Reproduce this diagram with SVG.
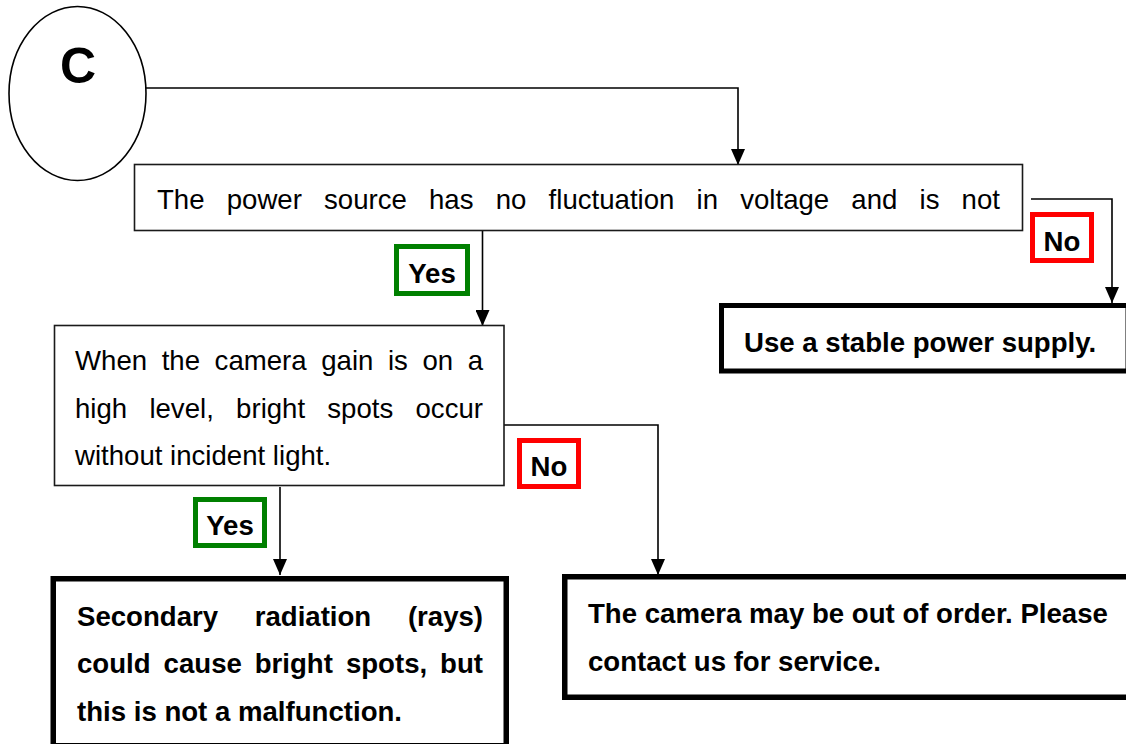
<svg xmlns="http://www.w3.org/2000/svg" width="1126" height="744" viewBox="0 0 1126 744">
<style>
text{font-family:"Liberation Sans",Arial,sans-serif;font-size:27.6px;fill:#000}
.b{font-weight:bold}
.thin{fill:#fff;stroke:#1a1a1a;stroke-width:1.6}
.thick{fill:#fff;stroke:#000;stroke-width:5.5}
.con{fill:none;stroke:#000;stroke-width:1.6}
.yes{fill:#fff;stroke:#008000;stroke-width:5}
.no{fill:#fff;stroke:#ff0000;stroke-width:5}
.lbl{font-weight:bold;text-anchor:middle}
</style>
<defs>
<marker id="arr" markerUnits="userSpaceOnUse" markerWidth="16" markerHeight="14" refX="16" refY="7" orient="auto">
<path d="M0,0 L16,7 L0,14 z" fill="#000"/>
</marker>
</defs>
<rect width="1126" height="744" fill="#fff"/>

<g id="connectors">
<path class="con" d="M146,88 H738 V165" marker-end="url(#arr)"/>
<path class="con" d="M1031,199 H1112 V303" marker-end="url(#arr)"/>
<path class="con" d="M482.5,231 V326" marker-end="url(#arr)"/>
<path class="con" d="M504,425 H658 V575" marker-end="url(#arr)"/>
<path class="con" d="M280,487 V575" marker-end="url(#arr)"/>
</g>

<g id="start">
<ellipse cx="77.5" cy="93.5" rx="68.5" ry="87" fill="#fff" stroke="#000" stroke-width="1.6"/>
<text class="b" x="78" y="83" text-anchor="middle" style="font-size:50px">C</text>
</g>

<g id="q1">
<rect class="thin" x="134.5" y="164.5" width="888" height="66"/>
<text y="209"><tspan x="157">The</tspan><tspan x="226.7">power</tspan><tspan x="324">source</tspan><tspan x="429">has</tspan><tspan x="495.7">no</tspan><tspan x="548.6">fluctuation</tspan><tspan x="696.5">in</tspan><tspan x="740.2">voltage</tspan><tspan x="851.3">and</tspan><tspan x="919.5">is</tspan><tspan x="961.6">not</tspan></text>
</g>

<g id="r1">
<rect class="thick" x="721.5" y="305.5" width="406.5" height="65.5" style="stroke-width:5"/>
<text class="b" x="744" y="352">Use a stable power supply.</text>
</g>

<g id="q2">
<rect class="thin" x="54.5" y="325.5" width="449.5" height="160"/>
<text y="370"><tspan x="75">When</tspan><tspan x="161.7">the</tspan><tspan x="214.6">camera</tspan><tspan x="321.2">gain</tspan><tspan x="387.9">is</tspan><tspan x="422.4">on</tspan><tspan x="467.7">a</tspan></text>
<text y="418"><tspan x="75">high</tspan><tspan x="149.4">level,</tspan><tspan x="236.1">bright</tspan><tspan x="327.3">spots</tspan><tspan x="415.5">occur</tspan></text>
<text x="75" y="465">without incident light.</text>
</g>

<g id="r2">
<rect class="thick" x="53.25" y="578.75" width="453" height="167"/>
<text class="b" y="626"><tspan x="77">Secondary</tspan><tspan x="254.7">radiation</tspan><tspan x="407.9">(rays)</tspan></text>
<text class="b" y="673"><tspan x="77">could</tspan><tspan x="163.6">cause</tspan><tspan x="254.7">bright</tspan><tspan x="345.9">spots,</tspan><tspan x="440.1">but</tspan></text>
<text class="b" x="77" y="721">this is not a malfunction.</text>
</g>

<g id="r3">
<rect class="thick" x="564.75" y="576.75" width="575" height="120.5"/>
<text class="b" x="588" y="623">The camera may be out of order. Please</text>
<text class="b" x="588" y="671">contact us for service.</text>
</g>

<g id="label-yes1">
<rect class="yes" x="396.5" y="246.5" width="71" height="47"/>
<text class="lbl" x="432" y="283">Yes</text>
</g>
<g id="label-no1">
<rect class="no" x="1032.5" y="214.5" width="59" height="46"/>
<text class="lbl" x="1062" y="251">No</text>
</g>
<g id="label-no2">
<rect class="no" x="519.5" y="440.5" width="59" height="46"/>
<text class="lbl" x="549" y="476">No</text>
</g>
<g id="label-yes2">
<rect class="yes" x="195.5" y="499.5" width="69" height="46"/>
<text class="lbl" x="230" y="535">Yes</text>
</g>
</svg>
